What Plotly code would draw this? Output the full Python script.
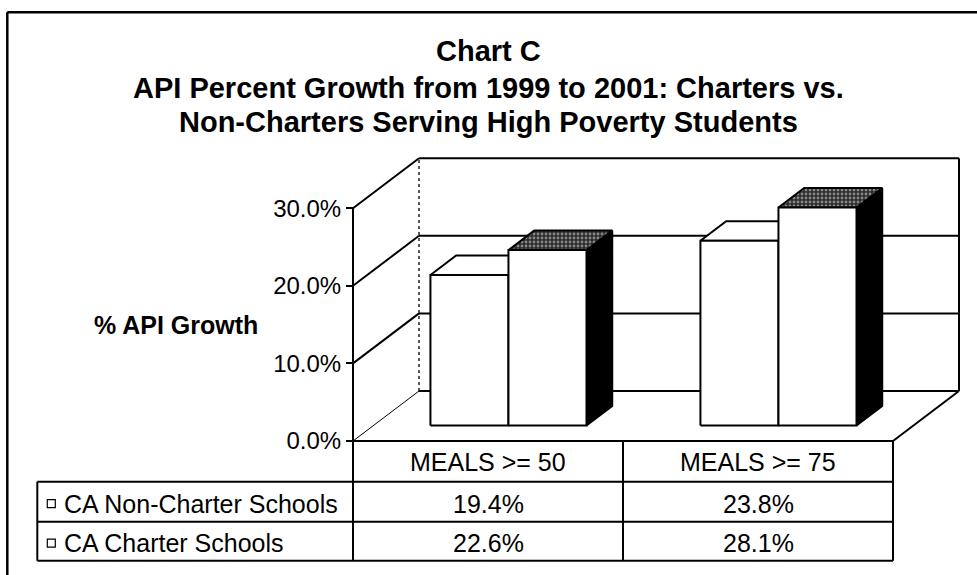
import plotly.graph_objects as go

# ---------------- data ----------------
title_lines = [
    "Chart C",
    "API Percent Growth from 1999 to 2001: Charters vs.",
    "Non-Charters Serving High Poverty Students",
]
categories = ["MEALS >= 50", "MEALS >= 75"]
series_names = ["CA Non-Charter Schools", "CA Charter Schools"]
non_charter = [0.194, 0.238]
charter = [0.226, 0.281]
y_tick_vals = [0.0, 0.1, 0.2, 0.3]
y_axis_title = "% API Growth"

series_values = [non_charter, charter]

# ---------------- geometry / style ----------------
FONT = "Arial, 'Liberation Sans', sans-serif"
FIG_W, FIG_H = 977, 575
AXIS_PX = 353.0        # pixel column of the front value axis
CAT_PX = 270.0         # pixel width of one category on the front plane
ZERO_PX = 441.0        # pixel row of 0% on the front plane
UNIT_PX = 776.0        # pixels per 1.0 (=100%)
DEPTH_PX = (66.0, 50.0)
FRONT_F, BACK_F = 0.31, 0.70   # bar depth (fractions of the floor depth)
GROUP_W = 0.578                # fraction of a category used by the bar cluster
TABLE_ROWS_PX = [441.0, 481.7, 521.7, 560.7]
TABLE_LEFT_PX = 37.3
FRAME_LEFT_PX, FRAME_TOP_PX = 7.3, 12.3
TABLE_FONT = 25

x_lo = -0.5 - AXIS_PX / CAT_PX
x_hi = x_lo + FIG_W / CAT_PX
y_lo = -(FIG_H - ZERO_PX) / UNIT_PX
y_hi = ZERO_PX / UNIT_PX
dx = DEPTH_PX[0] / CAT_PX
dy = DEPTH_PX[1] / UNIT_PX


def py(px):
    return 1 - px / FIG_H


def xdata(px):
    return x_lo + px / CAT_PX


n_cat = len(categories)
n_ser = len(series_values)
bar_w = GROUP_W / n_ser
x_left_edge = -0.5
x_right_edge = n_cat - 0.5
y_top = max(y_tick_vals)

fig = go.Figure()
LINE = dict(color="black", width=2)


def proj(x, y, f):
    return x + f * dx, y + f * dy


def poly(pts, fill, pattern=None, name=None):
    xs = [p[0] for p in pts] + [pts[0][0]]
    ys = [p[1] for p in pts] + [pts[0][1]]
    kw = dict(x=xs, y=ys, mode="lines", fill="toself", fillcolor=fill,
              line=LINE, hoverinfo="skip", showlegend=False)
    if pattern:
        kw["fillpattern"] = pattern
    if name:
        kw["name"] = name
    fig.add_trace(go.Scatter(**kw))


styles = [
    dict(front="white", top="white", side="white", pattern=None),
    dict(front="white", top="#333333", side="black",
         pattern=dict(shape=".", bgcolor="#2a2a2a", fgcolor="#e6e6e6", size=4, solidity=0.4)),
]

for ci in range(n_cat):
    for si in range(n_ser):
        v = series_values[si][ci]
        xl = ci - GROUP_W / 2 + si * bar_w
        xr = xl + bar_w
        st = styles[si]
        poly([proj(xr, 0, FRONT_F), proj(xr, 0, BACK_F), proj(xr, v, BACK_F), proj(xr, v, FRONT_F)],
             st["side"])
        poly([proj(xl, v, FRONT_F), proj(xr, v, FRONT_F), proj(xr, v, BACK_F), proj(xl, v, BACK_F)],
             st["top"], st["pattern"])
        poly([proj(xl, 0, FRONT_F), proj(xr, 0, FRONT_F), proj(xr, v, FRONT_F), proj(xl, v, FRONT_F)],
             st["front"], name=series_names[si])

shapes = []


def dline(x0, y0, x1, y1, width=2, dash="solid", color="black", layer="below"):
    shapes.append(dict(type="line", xref="x", yref="y", x0=x0, y0=y0, x1=x1, y1=y1,
                       line=dict(color=color, width=width, dash=dash), layer=layer))


# walls / gridlines
for v in y_tick_vals:
    w = 1 if v == 0 else 2
    dline(x_left_edge, v, x_left_edge + dx, v + dy, width=w)
    dline(x_left_edge + dx, v + dy, x_right_edge + dx, v + dy, width=2)
dline(x_left_edge + dx, dy, x_left_edge + dx, y_top + dy, width=1.5, dash="dot", color="#222")
dline(x_right_edge + dx, dy, x_right_edge + dx, y_top + dy, width=2)
dline(x_left_edge, 0, x_left_edge, y_top, width=2)
dline(x_right_edge, 0, x_right_edge + dx, dy, width=2)


# table
def tline(x0, p0, x1, p1, width=2):
    shapes.append(dict(type="line", xref="x", yref="paper", x0=x0, y0=py(p0), x1=x1, y1=py(p1),
                       line=dict(color="black", width=width), layer="above"))


tl = xdata(TABLE_LEFT_PX)
tline(x_left_edge, TABLE_ROWS_PX[0], x_right_edge, TABLE_ROWS_PX[0])
for r in TABLE_ROWS_PX[1:]:
    tline(tl, r, x_right_edge, r)
tline(tl, TABLE_ROWS_PX[1], tl, TABLE_ROWS_PX[-1])
tline(x_left_edge, TABLE_ROWS_PX[0], x_left_edge, TABLE_ROWS_PX[-1])
for ci in range(n_cat):
    tline(ci + 0.5, TABLE_ROWS_PX[0], ci + 0.5, TABLE_ROWS_PX[-1])

# frame
shapes.append(dict(type="line", xref="paper", yref="paper", x0=FRAME_LEFT_PX / FIG_W, y0=py(FRAME_TOP_PX),
                   x1=1, y1=py(FRAME_TOP_PX), line=dict(color="black", width=2.5)))
shapes.append(dict(type="line", xref="paper", yref="paper", x0=FRAME_LEFT_PX / FIG_W, y0=py(FRAME_TOP_PX),
                   x1=FRAME_LEFT_PX / FIG_W, y1=0, line=dict(color="black", width=2.5)))

annotations = []


def row_mid(i):
    return (TABLE_ROWS_PX[i] + TABLE_ROWS_PX[i + 1]) / 2


for ci, cat in enumerate(categories):
    annotations.append(dict(x=ci, y=py(row_mid(0) + 1), xref="x", yref="paper", text=cat,
                            showarrow=False, xanchor="center", yanchor="middle",
                            font=dict(family=FONT, size=TABLE_FONT, color="black")))
for si, name in enumerate(series_names):
    ym = row_mid(si + 1) + 2
    annotations.append(dict(x=tl + 25 / CAT_PX, y=py(ym), xref="x", yref="paper", text=name,
                            showarrow=False, xanchor="left", yanchor="middle",
                            font=dict(family=FONT, size=TABLE_FONT, color="black")))
    shapes.append(dict(type="rect", xref="x", yref="paper",
                       x0=tl + 10 / CAT_PX, x1=tl + 18 / CAT_PX,
                       y0=py(ym + 4), y1=py(ym - 4),
                       line=dict(color="black", width=1.2), fillcolor="white", layer="above"))
    for ci in range(n_cat):
        annotations.append(dict(x=ci, y=py(ym), xref="x", yref="paper",
                                text=f"{series_values[si][ci] * 100:.1f}%",
                                showarrow=False, xanchor="center", yanchor="middle",
                                font=dict(family=FONT, size=TABLE_FONT, color="black")))

# axis title
annotations.append(dict(x=176 / FIG_W, y=py(325), xref="paper", yref="paper", text=f"<b>{y_axis_title}</b>",
                        showarrow=False, xanchor="center", yanchor="middle",
                        font=dict(family=FONT, size=25, color="black")))

# title
for txt, ypx in zip(title_lines, [51, 87.5, 121.5]):
    annotations.append(dict(x=0.5, y=py(ypx), xref="paper", yref="paper", text=f"<b>{txt}</b>",
                            showarrow=False, xanchor="center", yanchor="middle",
                            font=dict(family=FONT, size=29, color="black")))

fig.update_layout(
    width=FIG_W, height=FIG_H,
    margin=dict(l=0, r=0, t=0, b=0),
    paper_bgcolor="white", plot_bgcolor="white",
    showlegend=False,
    xaxis=dict(range=[x_lo, x_hi], visible=False, fixedrange=True),
    yaxis=dict(range=[y_lo, y_hi], anchor="free", position=AXIS_PX / FIG_W,
               tickvals=y_tick_vals, tickformat=".1%", ticks="outside", ticklen=7,
               tickwidth=2, tickcolor="black", showgrid=False, zeroline=False,
               showline=False, fixedrange=True,
               tickfont=dict(family=FONT, size=24, color="black")),
    shapes=shapes,
    annotations=annotations,
)

fig.write_html("out.html", config={"displayModeBar": False})
